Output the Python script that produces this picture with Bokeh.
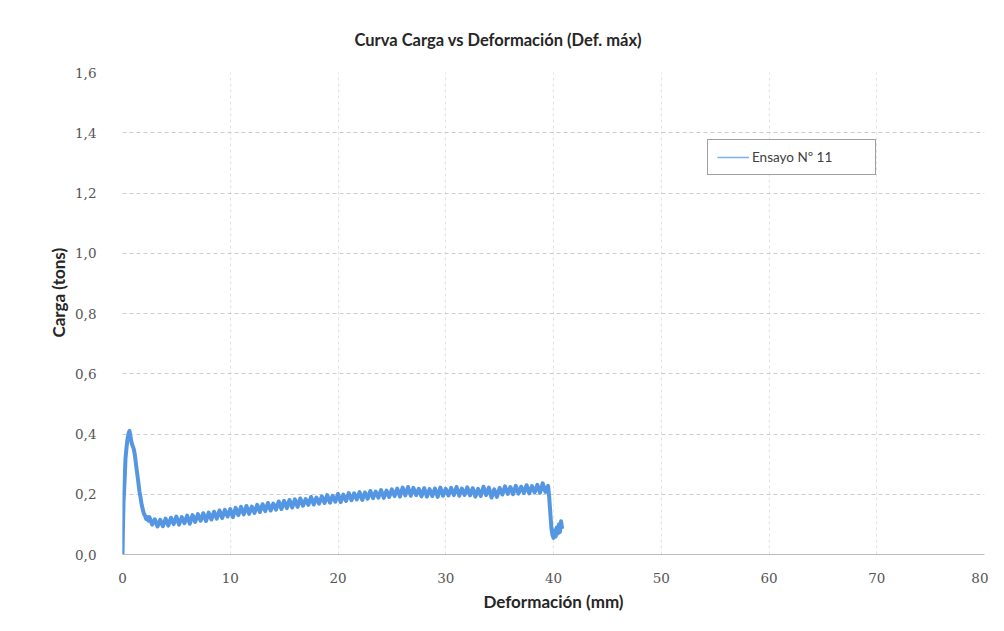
from bokeh.plotting import figure
from bokeh.models import (Range1d, FixedTicker, CustomJSTickFormatter, Legend,
                          LegendItem, Title)
from bokeh.embed import file_html
from bokeh.resources import INLINE

# ---- data ----
x_rise = [0.0, 0.05, 0.1, 0.15, 0.2, 0.28, 0.36, 0.45, 0.55, 0.65, 0.75, 0.85,
          0.95, 1.05, 1.15, 1.25, 1.36, 1.47, 1.57, 1.67, 1.78, 1.88, 1.98,
          2.1, 2.2, 2.3, 2.4]
y_rise = [0.0, 0.10, 0.18, 0.21, 0.25, 0.32, 0.35, 0.38, 0.40, 0.41, 0.39,
          0.37, 0.36, 0.35, 0.33, 0.30, 0.27, 0.24, 0.21, 0.19, 0.165, 0.15,
          0.136, 0.128, 0.118, 0.124, 0.112]

x_body = [
    2.5, 2.75, 3.0, 3.25, 3.5, 3.75, 4.0, 4.25,
    4.5, 4.75, 5.0, 5.25, 5.5, 5.75, 6.0, 6.25,
    6.5, 6.75, 7.0, 7.25, 7.5, 7.75, 8.0, 8.25,
    8.5, 8.75, 9.0, 9.25, 9.5, 9.75, 10.0, 10.25,
    10.5, 10.75, 11.0, 11.25, 11.5, 11.75, 12.0, 12.25,
    12.5, 12.75, 13.0, 13.25, 13.5, 13.75, 14.0, 14.25,
    14.5, 14.75, 15.0, 15.25, 15.5, 15.75, 16.0, 16.25,
    16.5, 16.75, 17.0, 17.25, 17.5, 17.75, 18.0, 18.25,
    18.5, 18.75, 19.0, 19.25, 19.5, 19.75, 20.0, 20.25,
    20.5, 20.75, 21.0, 21.25, 21.5, 21.75, 22.0, 22.25,
    22.5, 22.75, 23.0, 23.25, 23.5, 23.75, 24.0, 24.25,
    24.5, 24.75, 25.0, 25.25, 25.5, 25.75, 26.0, 26.25,
    26.5, 26.75, 27.0, 27.25, 27.5, 27.75, 28.0, 28.25,
    28.5, 28.75, 29.0, 29.25, 29.5, 29.75, 30.0, 30.25,
    30.5, 30.75, 31.0, 31.25, 31.5, 31.75, 32.0, 32.25,
    32.5, 32.75, 33.0, 33.25, 33.5, 33.75, 34.0, 34.25,
    34.5, 34.75, 35.0, 35.25, 35.5, 35.75, 36.0, 36.25,
    36.5, 36.75, 37.0, 37.25, 37.5, 37.75, 38.0, 38.25,
    38.5, 38.75, 39.0, 39.25, 39.5,
]
y_body = [
    0.124, 0.099, 0.117, 0.093, 0.115, 0.094, 0.119, 0.096,
    0.122, 0.101, 0.126, 0.099, 0.124, 0.104, 0.129, 0.102,
    0.131, 0.108, 0.134, 0.112, 0.137, 0.111, 0.139, 0.116,
    0.142, 0.119, 0.146, 0.121, 0.148, 0.126, 0.151, 0.124,
    0.155, 0.131, 0.158, 0.133, 0.161, 0.135, 0.159, 0.138,
    0.165, 0.141, 0.167, 0.144, 0.171, 0.146, 0.169, 0.149,
    0.176, 0.151, 0.178, 0.154, 0.181, 0.156, 0.183, 0.158,
    0.186, 0.162, 0.184, 0.165, 0.191, 0.166, 0.189, 0.169,
    0.193, 0.171, 0.197, 0.172, 0.195, 0.175, 0.201, 0.174,
    0.199, 0.178, 0.204, 0.180, 0.203, 0.183, 0.207, 0.181,
    0.206, 0.185, 0.211, 0.187, 0.209, 0.189, 0.214, 0.188,
    0.212, 0.191, 0.216, 0.194, 0.219, 0.192, 0.222, 0.196,
    0.224, 0.195, 0.221, 0.197, 0.218, 0.193, 0.220, 0.192,
    0.217, 0.194, 0.219, 0.191, 0.222, 0.195, 0.218, 0.196,
    0.221, 0.197, 0.224, 0.195, 0.219, 0.198, 0.223, 0.196,
    0.220, 0.192, 0.218, 0.194, 0.225, 0.197, 0.222, 0.189,
    0.216, 0.191, 0.221, 0.199, 0.226, 0.201, 0.224, 0.200,
    0.228, 0.202, 0.225, 0.204, 0.230, 0.203, 0.227, 0.206,
    0.231, 0.205, 0.236, 0.208, 0.228,
]

x_end = [39.6, 39.7, 39.8, 39.9, 40.0, 40.1, 40.2, 40.3, 40.4, 40.5, 40.6,
         40.7, 40.8]
y_end = [0.19, 0.14, 0.09, 0.065, 0.055, 0.08, 0.06, 0.09, 0.07, 0.10,
         0.075, 0.11, 0.085]

deformacion = x_rise + x_body + x_end
carga = y_rise + y_body + y_end

x_ticks = [0, 10, 20, 30, 40, 50, 60, 70, 80]
y_ticks = [0.0, 0.2, 0.4, 0.6, 0.8, 1.0, 1.2, 1.4, 1.6]
series_name = "Ensayo Nº 11"
y_title = "Carga (tons)"

BLUE = "#5596e3"

# ---- figure ----
p = figure(width=988, height=615, output_backend="svg", toolbar_location=None,
           x_range=Range1d(0, 80), y_range=Range1d(0, 1.6),
           min_border_left=122, min_border_right=4,
           min_border_top=72, min_border_bottom=61)
p.outline_line_color = None
p.background_fill_color = "white"
p.border_fill_color = "white"

title = Title(text="Curva Carga vs Deformación (Def. máx)", align="left",
              offset=232, standoff=45, text_font="Lato",
              text_font_size="16.5px", text_font_style="bold",
              text_color="#262626")
p.add_layout(title, "above")

# y-axis title, set slightly above the middle as in the original
ytitle = Title(text=y_title, align="left", offset=217, standoff=8,
               text_font="Lato", text_font_size="17px",
               text_font_style="bold", text_color="#262626")
p.add_layout(ytitle, "left")

# thin copy used only as the legend swatch
legend_line = p.line(deformacion, carga, line_color="#7fb0ea", line_width=1.5)
line = p.line(deformacion, carga, line_color=BLUE, line_width=4,
              line_join="round")

# axes
p.xaxis.ticker = FixedTicker(ticks=x_ticks)
p.yaxis.ticker = FixedTicker(ticks=y_ticks)
p.yaxis.formatter = CustomJSTickFormatter(
    code="return tick.toFixed(1).replace('.', ',');")

for ax in (p.xaxis[0], p.yaxis[0]):
    ax.major_tick_line_color = None
    ax.minor_tick_line_color = None
    ax.major_label_text_font = "DejaVu Serif"
    ax.major_label_text_font_size = "13.5px"
    ax.major_label_text_color = "#555555"
    ax.axis_label_text_font = "Lato"
    ax.axis_label_text_font_size = "17px"
    ax.axis_label_text_font_style = "bold"
    ax.axis_label_text_color = "#262626"

p.xaxis.axis_label = "Deformación (mm)"
p.xaxis.axis_line_color = "#bdbdbd"
p.yaxis.axis_line_color = None
p.xaxis.major_label_standoff = 12
p.xaxis.axis_label_standoff = 5
p.yaxis.major_label_standoff = 20

# grid
p.xgrid.grid_line_color = "#e3e3e3"
p.xgrid.grid_line_dash = "3 3"
p.ygrid.grid_line_color = "#cccccc"
p.ygrid.grid_line_dash = "4 3"

# legend
legend = Legend(items=[LegendItem(label=series_name, renderers=[legend_line])],
                location=(585, 379), orientation="vertical",
                border_line_color="#404040", border_line_width=1,
                background_fill_color="white", background_fill_alpha=1,
                label_text_font="Lato", label_text_font_size="13.5px",
                label_text_color="#404040", glyph_width=32, glyph_height=16,
                label_standoff=3, padding=9, margin=0, spacing=0,
                label_width=114)
p.add_layout(legend, "center")

open("out.html", "w").write(file_html(p, INLINE))
